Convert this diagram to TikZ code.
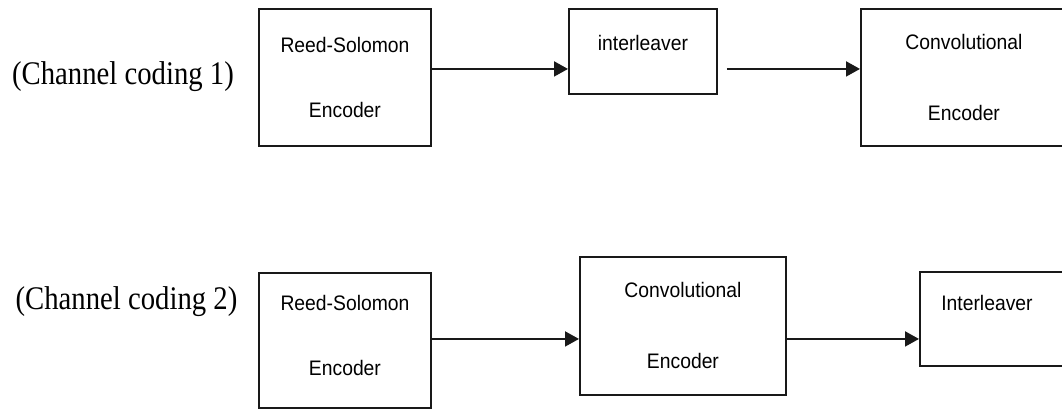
\documentclass[tikz,border=0pt]{standalone}
\usepackage{fontspec}
\usepackage{tikz}
\usetikzlibrary{arrows.meta, positioning}
\newfontfamily\blockfont[FakeStretch=0.92]{Liberation Sans}
\newfontfamily\chanfont[FakeStretch=0.87]{Liberation Serif}

\begin{document}
\begin{tikzpicture}[
  x=1pt, y=-1pt,
  block/.style={rectangle, draw=black!90, line width=1.9pt, anchor=north west, align=center,
    inner sep=0pt, font=\blockfont\fontsize{21}{25}\selectfont},
  chan/.style={inner sep=0pt, font=\chanfont\fontsize{33}{38}\selectfont},
  arrow/.style={-{Triangle[length=14pt,width=15pt]}, line width=1.9pt, color=black!90}
]
\clip (0,0) rectangle (1062,409);

\node[chan] (ch1) at (123,77) {(Channel coding 1)};
\node[block, minimum width=172pt, minimum height=137pt] (rs1) at (258,8) {Reed-Solomon\\[40pt]Encoder};
\node[block, minimum width=148pt, minimum height=85pt, text depth=17pt] (il1) at (568,8) {interleaver};
\node[block, minimum width=206pt, minimum height=137pt] (cv1) at (860,8) {Convolutional\\[46pt]Encoder};

\node[chan] (ch2) at (126.5,301.5) {(Channel coding 2)};
\node[block, minimum width=172pt, minimum height=135pt] (rs2) at (258,272) {Reed-Solomon\\[40pt]Encoder\\[-22pt]\strut};
\node[block, minimum width=206pt, minimum height=138pt] (cv2) at (579,256) {Convolutional\\[46pt]Encoder};
\node[block, minimum width=160pt, minimum height=94pt, text depth=32pt] (il2) at (919,271) {Interleaver\hspace*{26pt}};

\coordinate (a1) at ([yshift=8.5pt]rs1.east);
\coordinate (a2) at ([xshift=9pt, yshift=-17.5pt]il1.east);
\coordinate (a3) at ([yshift=1.5pt]rs2.east);
\coordinate (a4) at ([yshift=-13pt]cv2.east);

\draw[arrow] (a1) -- (a1 -| il1.west);
\draw[arrow] (a2) -- (a2 -| cv1.west);
\draw[arrow] (a3) -- (a3 -| cv2.west);
\draw[arrow] (a4) -- (a4 -| il2.west);
\end{tikzpicture}
\end{document}
